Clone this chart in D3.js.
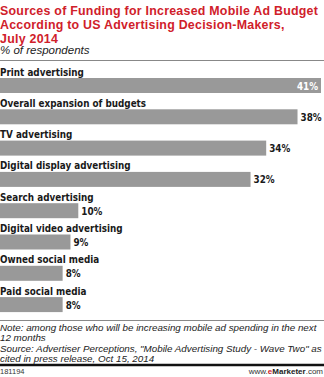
<!DOCTYPE html>
<html>
<head>
<meta charset="utf-8">
<script src="https://cdn.jsdelivr.net/npm/d3@7"></script>
<style>
  html, body { margin: 0; padding: 0; background: #fff; }
  svg { display: block; }
</style>
</head>
<body>
<script>
// Chart data
const categories = [
  "Print advertising",
  "Overall expansion of budgets",
  "TV advertising",
  "Digital display advertising",
  "Search advertising",
  "Digital video advertising",
  "Owned social media",
  "Paid social media"
];
const values = [41, 38, 34, 32, 10, 9, 8, 8];

const titleLines = [
  "Sources of Funding for Increased Mobile Ad Budget",
  "According to US Advertising Decision-Makers,",
  "July 2014"
];
const subtitle = "% of respondents";
const noteLines = [
  "Note: among those who will be increasing mobile ad spending in the next",
  "12 months",
  "Source: Advertiser Perceptions, \"Mobile Advertising Study - Wave Two\" as",
  "cited in press release, Oct 15, 2014"
];
const chartId = "181194";

const W = 324, H = 377;
const svg = d3.select("body").append("svg").attr("width", W).attr("height", H);

const red = "#d0202a";
const barColor = "#999999";
const textDark = "#1a1a1a";

// Title block
svg.append("g").selectAll("text").data(titleLines).join("text")
  .attr("x", 0)
  .attr("y", (d, i) => 14.5 + i * 14)
  .attr("fill", red)
  .attr("font-family", "'Liberation Sans', Arial, sans-serif")
  .attr("font-weight", "bold")
  .attr("font-size", 12.4)
  .attr("letter-spacing", 0.25)
  .text(d => d);

svg.append("text")
  .attr("x", 0).attr("y", 54)
  .attr("fill", "#222")
  .attr("font-family", "'Liberation Sans', Arial, sans-serif")
  .attr("font-style", "italic")
  .attr("font-size", 11.5)
  .text(subtitle);

svg.append("line")
  .attr("x1", 0).attr("x2", W).attr("y1", 60.5).attr("y2", 60.5)
  .attr("stroke", "#888").attr("stroke-width", 1);

// Scales
const x = d3.scaleLinear().domain([0, d3.max(values)]).range([0, 321]);
const y = d3.scaleBand().domain(categories).range([64, 64 + 31.3 * categories.length]).padding(0);

const rows = svg.append("g").selectAll("g").data(categories).join("g")
  .attr("transform", d => `translate(0,${y(d)})`);

rows.append("text")
  .attr("x", 0).attr("y", 11.5)
  .attr("fill", textDark)
  .attr("font-family", "'DejaVu Sans Condensed', 'DejaVu Sans', sans-serif")
  .attr("font-stretch", "condensed")
  .attr("font-weight", "bold")
  .attr("font-size", 9.8)
  .text(d => d);

rows.append("rect")
  .attr("x", 0).attr("y", 14)
  .attr("width", (d, i) => x(values[i]))
  .attr("height", 15)
  .attr("fill", barColor);

const maxV = d3.max(values);
rows.append("text")
  .attr("x", (d, i) => values[i] === maxV ? x(values[i]) - 3 : x(values[i]) + 3)
  .attr("y", 25.5)
  .attr("text-anchor", (d, i) => values[i] === maxV ? "end" : "start")
  .attr("fill", (d, i) => values[i] === maxV ? "#fff" : textDark)
  .attr("font-family", "'DejaVu Sans Condensed', 'DejaVu Sans', sans-serif")
  .attr("font-stretch", "condensed")
  .attr("font-weight", "bold")
  .attr("font-size", 9.8)
  .text((d, i) => values[i] + "%");

// Footer
svg.append("line")
  .attr("x1", 0).attr("x2", W).attr("y1", 320.5).attr("y2", 320.5)
  .attr("stroke", "#888").attr("stroke-width", 1);

svg.append("g").selectAll("text").data(noteLines).join("text")
  .attr("x", 0)
  .attr("y", (d, i) => 331 + i * 10.3)
  .attr("fill", "#222")
  .attr("font-family", "'Liberation Sans', Arial, sans-serif")
  .attr("font-style", "italic")
  .attr("font-size", 9.8)
  .text(d => d);

svg.append("line")
  .attr("x1", 0).attr("x2", W).attr("y1", 365).attr("y2", 365)
  .attr("stroke", "#111").attr("stroke-width", 2.5);

svg.append("text")
  .attr("x", 0).attr("y", 374)
  .attr("fill", "#333")
  .attr("font-family", "'Liberation Sans', Arial, sans-serif")
  .attr("font-size", 7.5)
  .text(chartId);

const brand = svg.append("text")
  .attr("x", W - 1).attr("y", 374)
  .attr("text-anchor", "end")
  .attr("fill", "#333")
  .attr("font-family", "'Liberation Sans', Arial, sans-serif")
  .attr("font-size", 8);
brand.append("tspan").text("www.");
brand.append("tspan").attr("fill", red).attr("font-weight", "bold").text("e");
brand.append("tspan").attr("fill", "#222").attr("font-weight", "bold").text("Marketer");
brand.append("tspan").text(".com");
</script>
</body>
</html>
